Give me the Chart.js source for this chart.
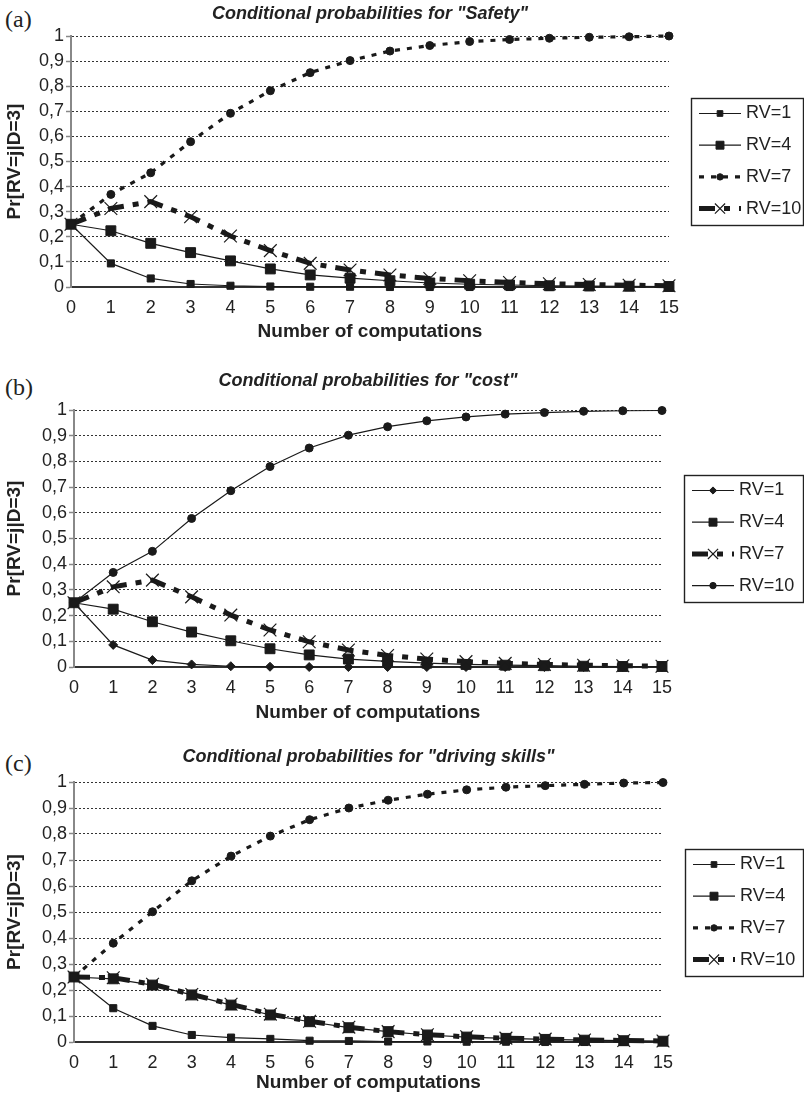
<!DOCTYPE html>
<html>
<head>
<meta charset="utf-8">
<script src="https://cdn.jsdelivr.net/npm/chart.js@4/dist/chart.umd.min.js"></script>
<style>
  html, body { margin:0; padding:0; background:#fff; }
  body { width:804px; height:1096px; position:relative; overflow:hidden; }
  canvas { position:absolute; left:0; }
  .plabel { position:absolute; left:5px; font-family:"Liberation Serif", "DejaVu Serif", serif; font-size:24px; line-height:24px; color:#222; }
</style>
</head>
<body>
<div class="plabel" style="top:7px">(a)</div>
<div class="plabel" style="top:375px">(b)</div>
<div class="plabel" style="top:751px">(c)</div>
<canvas id="cA" width="804" height="348" style="top:0px"></canvas>
<canvas id="cB" width="804" height="364" style="top:366px"></canvas>
<canvas id="cC" width="804" height="354" style="top:742px"></canvas>
<script>
// ---------- data ----------
const categories = ['0','1','2','3','4','5','6','7','8','9','10','11','12','13','14','15'];
const seriesLabels = ['RV=1', 'RV=4', 'RV=7', 'RV=10'];
const yAxisTitle = 'Pr[RV=j|D=3]';
const xAxisTitle = 'Number of computations';
const titleA = 'Conditional probabilities for "Safety"';
const titleB = 'Conditional probabilities for "cost"';
const titleC = 'Conditional probabilities for "driving skills"';

const safetyRV1  = [0.25,0.094,0.034,0.012,0.005,0.002,0.001,0.001,0,0,0,0,0,0,0,0];
const safetyRV4  = [0.25,0.224,0.174,0.137,0.104,0.072,0.048,0.035,0.025,0.016,0.011,0.008,0.005,0.004,0.003,0.002];
const safetyRV7  = [0.25,0.369,0.455,0.579,0.692,0.782,0.854,0.902,0.940,0.962,0.978,0.986,0.991,0.995,0.997,1.0];
const safetyRV10 = [0.25,0.313,0.340,0.280,0.203,0.145,0.094,0.068,0.048,0.034,0.025,0.018,0.013,0.010,0.007,0.005];

const costRV1  = [0.25,0.086,0.027,0.010,0.003,0.001,0,0,0,0,0,0,0,0,0,0];
const costRV4  = [0.25,0.225,0.176,0.136,0.102,0.071,0.047,0.031,0.022,0.015,0.010,0.007,0.005,0.003,0.002,0.002];
const costRV7  = [0.25,0.312,0.338,0.273,0.202,0.144,0.098,0.066,0.045,0.031,0.021,0.014,0.010,0.007,0.005,0.003];
const costRV10 = [0.25,0.368,0.450,0.578,0.686,0.780,0.852,0.902,0.935,0.958,0.973,0.984,0.990,0.995,0.997,0.998];

const drivingRV1  = [0.25,0.130,0.062,0.027,0.017,0.012,0.005,0.004,0.002,0.002,0.001,0.001,0,0,0,0];
const drivingRV4  = [0.25,0.243,0.219,0.181,0.142,0.104,0.078,0.055,0.040,0.027,0.019,0.014,0.010,0.007,0.005,0.003];
const drivingRV7  = [0.25,0.380,0.501,0.620,0.715,0.792,0.855,0.900,0.930,0.953,0.970,0.980,0.986,0.991,0.996,0.998];
const drivingRV10 = [0.25,0.247,0.222,0.183,0.145,0.107,0.080,0.057,0.040,0.028,0.020,0.015,0.011,0.008,0.006,0.004];

// ---------- styles ----------
const FONT = '"Liberation Sans", Arial, sans-serif';
const INK = '#1a1a1a';
const S = {
  thinSmallSquare: {borderWidth:1.2, borderDash:[], pointStyle:'rect', pointRadius:5, pointBorderWidth:1},
  thinBigSquare:   {borderWidth:1.2, borderDash:[], pointStyle:'rect', pointRadius:7, pointBorderWidth:1},
  thinDiamond:     {borderWidth:1.2, borderDash:[], pointStyle:'rectRot', pointRadius:4.5, pointBorderWidth:1},
  thinCircle:      {borderWidth:1.2, borderDash:[], pointStyle:'circle', pointRadius:4, pointBorderWidth:1},
  dotted:          {borderWidth:3.2, borderDash:[5,7], pointStyle:'circle', pointRadius:4, pointBorderWidth:1},
  dashX:           {borderWidth:5, borderDash:[16,9,6,9], pointStyle:'crossRot', pointRadius:9, pointBorderWidth:1.2}
};

function ds(label, data, st) {
  return Object.assign({
    label, data,
    borderColor: INK, backgroundColor: INK,
    pointBackgroundColor: INK, pointBorderColor: INK,
    tension: 0, clip: false, fill: false
  }, st);
}

function drawMarker(ctx, style, x, y, r, bw) {
  ctx.beginPath();
  if (style === 'circle') ctx.arc(x, y, r, 0, 2*Math.PI);
  else if (style === 'rect') { const s = r*Math.SQRT1_2; ctx.rect(x-s, y-s, 2*s, 2*s); }
  else if (style === 'rectRot') { ctx.moveTo(x-r,y); ctx.lineTo(x,y-r); ctx.lineTo(x+r,y); ctx.lineTo(x,y+r); ctx.closePath(); }
  else if (style === 'crossRot') {
    const o = r*Math.SQRT1_2;
    ctx.moveTo(x-o,y-o); ctx.lineTo(x+o,y+o); ctx.moveTo(x+o,y-o); ctx.lineTo(x-o,y+o);
    ctx.lineWidth = bw; ctx.stroke(); return;
  }
  ctx.fill(); ctx.lineWidth = bw; ctx.stroke();
}

const boxLegend = {
  id: 'boxLegend',
  afterDraw(chart) {
    const {ctx, chartArea} = chart;
    const left = Math.round(chartArea.right + 22);
    const right = 803;
    const h = 127;
    const top = Math.round((chartArea.top + chartArea.bottom)/2 - h/2);
    ctx.save();
    ctx.setLineDash([]);
    ctx.strokeStyle = '#222'; ctx.lineWidth = 1.4;
    ctx.strokeRect(left+0.5, top+0.5, right-left, h);
    ctx.font = '18px ' + FONT;
    ctx.textBaseline = 'middle';
    ctx.textAlign = 'left';
    chart.data.datasets.forEach((d, i) => {
      const y = top + 15.5 + i*31.7;
      ctx.beginPath();
      ctx.setLineDash(d.borderDash || []);
      ctx.lineWidth = d.borderWidth; ctx.strokeStyle = INK;
      ctx.moveTo(left+8, y); ctx.lineTo(left+50, y); ctx.stroke();
      ctx.setLineDash([]);
      ctx.fillStyle = INK; ctx.strokeStyle = INK;
      drawMarker(ctx, d.pointStyle, left+29, y, d.pointRadius*0.8, d.pointBorderWidth);
      ctx.fillStyle = '#222';
      ctx.fillText(d.label, left+55, y);
    });
    ctx.restore();
  }
};

function fmtTick(v) {
  const r = Math.round(v*10)/10;
  return String(r).replace('.', ',');
}

function makeChart(id, title, datasets, P) {
  return new Chart(document.getElementById(id), {
    type: 'line',
    data: { labels: categories, datasets },
    plugins: [boxLegend],
    options: {
      responsive: false, animation: false, events: [],
      layout: { padding: { left: 0, right: P.padRight, top: 0, bottom: 0 } },
      plugins: {
        legend: { display: false },
        tooltip: { enabled: false },
        title: {
          display: true, text: title, fullSize: false, color: '#222',
          font: { family: FONT, size: 18, style: 'italic', weight: 'bold', lineHeight: 1.2 },
          padding: { top: P.tpt, bottom: P.tpb }
        }
      },
      scales: {
        x: {
          type: 'category', offset: false,
          grid: { display: false, drawTicks: false },
          border: { display: true, color: '#333', width: 2 },
          ticks: { font: { family: FONT, size: 18 }, color: '#222', padding: 10.2, maxRotation: 0, autoSkip: false },
          title: { display: true, text: xAxisTitle, color: '#222',
                   font: { family: FONT, size: 19, weight: 'bold', lineHeight: 1.2 },
                   padding: { top: 0, bottom: P.xpb } },
          afterFit: s => { s.height = P.hx; }
        },
        y: {
          min: 0, max: 1,
          ticks: { stepSize: 0.1, callback: v => fmtTick(v), font: { family: FONT, size: 18 }, color: '#222', padding: 2 },
          grid: { color: '#333', lineWidth: 1, drawTicks: true, tickLength: 5, tickColor: '#888', tickWidth: 1.5, tickBorderDash: [] },
          border: { display: true, color: '#888', width: 2, dash: [2, 2] },
          title: { display: true, text: yAxisTitle, color: '#222',
                   font: { family: FONT, size: 19, weight: 'bold', lineHeight: 1.2 },
                   padding: { top: 3.6, bottom: 0 } },
          afterFit: s => { s.width = P.wy; }
        }
      }
    }
  });
}

makeChart('cA', titleA, [
  ds(seriesLabels[0], safetyRV1, S.thinSmallSquare),
  ds(seriesLabels[1], safetyRV4, S.thinBigSquare),
  ds(seriesLabels[2], safetyRV7, S.dotted),
  ds(seriesLabels[3], safetyRV10, S.dashX)
], { padRight: 135, tpt: 3.2, tpb: 11.2, hx: 61, xpb: 4.6, wy: 71 });

makeChart('cB', titleB, [
  ds(seriesLabels[0], costRV1, S.thinDiamond),
  ds(seriesLabels[1], costRV4, S.thinBigSquare),
  ds(seriesLabels[2], costRV7, S.dashX),
  ds(seriesLabels[3], costRV10, S.thinCircle)
], { padRight: 142, tpt: 4.2, tpb: 18.2, hx: 63, xpb: 5.6, wy: 74 });

makeChart('cC', titleC, [
  ds(seriesLabels[0], drivingRV1, S.thinSmallSquare),
  ds(seriesLabels[1], drivingRV4, S.thinBigSquare),
  ds(seriesLabels[2], drivingRV7, S.dotted),
  ds(seriesLabels[3], drivingRV10, S.dashX)
], { padRight: 141, tpt: 4.2, tpb: 14.2, hx: 54, xpb: 1.6, wy: 74 });
</script>
</body>
</html>
